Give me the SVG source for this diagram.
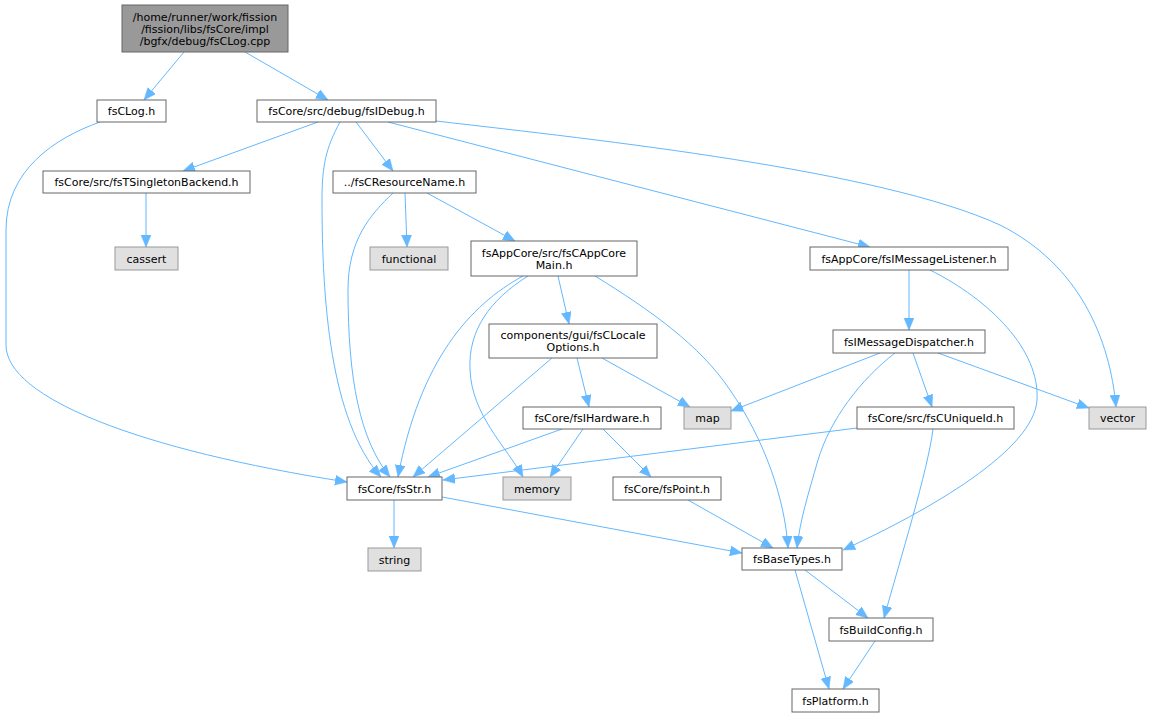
<svg xmlns="http://www.w3.org/2000/svg" width="1151" height="717" viewBox="0 0 1151 717">
<style>
.n rect{fill:#ffffff;stroke:#666666;stroke-width:1}
.x rect{fill:#e0e0e0;stroke:#999999;stroke-width:1}
.r rect{fill:#999999;stroke:#666666;stroke-width:1}
text{font-family:"DejaVu Sans","Liberation Sans",sans-serif;font-size:11px;fill:#000000;text-anchor:middle}
#edges path{fill:none;stroke:#63b8ff;stroke-width:1;marker-end:url(#ah)}
</style>
<defs>
<marker id="ah" markerUnits="userSpaceOnUse" markerWidth="13" markerHeight="11" refX="12" refY="5" orient="auto">
<path d="M0,0 L12,5 L0,10 z" fill="#63b8ff" stroke="#63b8ff" stroke-width="0.5"/>
</marker>
</defs>
<rect width="1151" height="717" fill="#ffffff"/>
<g id="edges">
<path d="M184,52 L144,100"/>
<path d="M245,52 L328,100"/>
<path d="M100,122 C55,138 6,170 6,230 L6,345 C6,398 140,450 347,482"/>
<path d="M318,122 L183,171"/>
<path d="M356,122 L393,171"/>
<path d="M340,122 C326,148 322,165 322,200 C322,300 330,420 381,477"/>
<path d="M388,122 L870,247"/>
<path d="M436,121 C600,140 880,170 1000,225 C1080,265 1110,340 1116,407"/>
<path d="M146,193 L146,247"/>
<path d="M405,193 L407,247"/>
<path d="M427,193 L515,241"/>
<path d="M393,193 C370,215 348,240 348,290 C348,380 360,440 390,477"/>
<path d="M558,276 L569,324"/>
<path d="M528,276 C490,300 468,330 470,370 C472,415 505,445 523,477"/>
<path d="M523,276 C470,305 420,360 398,477"/>
<path d="M595,276 C650,310 700,345 730,390 C765,440 785,500 788,548"/>
<path d="M552,358 L413,477"/>
<path d="M577,358 L589,407"/>
<path d="M602,358 L690,407"/>
<path d="M562,429 L428,477"/>
<path d="M583,429 L550,477"/>
<path d="M603,429 L651,477"/>
<path d="M909,270 L909,330"/>
<path d="M930,270 C990,300 1040,350 1037,400 C1034,450 930,510 843,550"/>
<path d="M880,353 L731,411"/>
<path d="M895,353 C860,380 830,420 818,460 C808,495 800,520 797,548"/>
<path d="M913,353 L932,407"/>
<path d="M938,353 L1089,408"/>
<path d="M857,428 L443,480"/>
<path d="M933,429 C928,470 900,560 884,618"/>
<path d="M805,570 L868,618"/>
<path d="M795,570 L829,689"/>
<path d="M875,641 L843,689"/>
<path d="M394,500 L394,548"/>
<path d="M442,497 L742,553"/>
<path d="M688,500 L773,548"/>
</g>
<g id="root" class="r"><rect x="122" y="5" width="166" height="47"/><text x="205" y="20.5">/home/runner/work/fission</text><text x="205" y="32.5">/fission/libs/fsCore/impl</text><text x="205" y="44.5">/bgfx/debug/fsCLog.cpp</text></g>
<g id="fsCLog" class="n"><rect x="97" y="100" width="69" height="22"/><text x="131.5" y="115">fsCLog.h</text></g>
<g id="fsIDebug" class="n"><rect x="257" y="100" width="179" height="22"/><text x="346.5" y="115">fsCore/src/debug/fsIDebug.h</text></g>
<g id="fsTSingletonBackend" class="n"><rect x="43" y="171" width="207" height="22"/><text x="146.5" y="186">fsCore/src/fsTSingletonBackend.h</text></g>
<g id="fsCResourceName" class="n"><rect x="333" y="171" width="143" height="22"/><text x="404.5" y="186">../fsCResourceName.h</text></g>
<g id="cassert" class="x"><rect x="115" y="247" width="63" height="23"/><text x="146.5" y="262.5">cassert</text></g>
<g id="functional" class="x"><rect x="370" y="247" width="78" height="23"/><text x="409" y="262.5">functional</text></g>
<g id="fsCAppCoreMain" class="n"><rect x="471" y="241" width="166" height="35"/><text x="554" y="256.5">fsAppCore/src/fsCAppCore</text><text x="554" y="268.5">Main.h</text></g>
<g id="fsIMessageListener" class="n"><rect x="810" y="247" width="198" height="23"/><text x="909" y="262.5">fsAppCore/fsIMessageListener.h</text></g>
<g id="fsCLocaleOptions" class="n"><rect x="489" y="324" width="168" height="34"/><text x="573" y="339">components/gui/fsCLocale</text><text x="573" y="351">Options.h</text></g>
<g id="fsIMessageDispatcher" class="n"><rect x="833" y="330" width="152" height="23"/><text x="909" y="345.5">fsIMessageDispatcher.h</text></g>
<g id="fsIHardware" class="n"><rect x="523" y="407" width="138" height="22"/><text x="592" y="422">fsCore/fsIHardware.h</text></g>
<g id="map" class="x"><rect x="684" y="407" width="47" height="22"/><text x="707.5" y="422">map</text></g>
<g id="fsCUniqueId" class="n"><rect x="857" y="407" width="157" height="22"/><text x="935.5" y="422">fsCore/src/fsCUniqueId.h</text></g>
<g id="vector" class="x"><rect x="1089" y="407" width="57" height="22"/><text x="1117.5" y="422">vector</text></g>
<g id="fsStr" class="n"><rect x="347" y="477" width="95" height="23"/><text x="394.5" y="492.5">fsCore/fsStr.h</text></g>
<g id="memory" class="x"><rect x="503" y="477" width="68" height="23"/><text x="537" y="492.5">memory</text></g>
<g id="fsPoint" class="n"><rect x="613" y="477" width="108" height="23"/><text x="667" y="492.5">fsCore/fsPoint.h</text></g>
<g id="string" class="x"><rect x="368" y="548" width="53" height="23"/><text x="394.5" y="563.5">string</text></g>
<g id="fsBaseTypes" class="n"><rect x="742" y="548" width="100" height="22"/><text x="792" y="563">fsBaseTypes.h</text></g>
<g id="fsBuildConfig" class="n"><rect x="829" y="618" width="104" height="23"/><text x="881" y="633.5">fsBuildConfig.h</text></g>
<g id="fsPlatform" class="n"><rect x="792" y="689" width="87" height="23"/><text x="835.5" y="704.5">fsPlatform.h</text></g>
</svg>
